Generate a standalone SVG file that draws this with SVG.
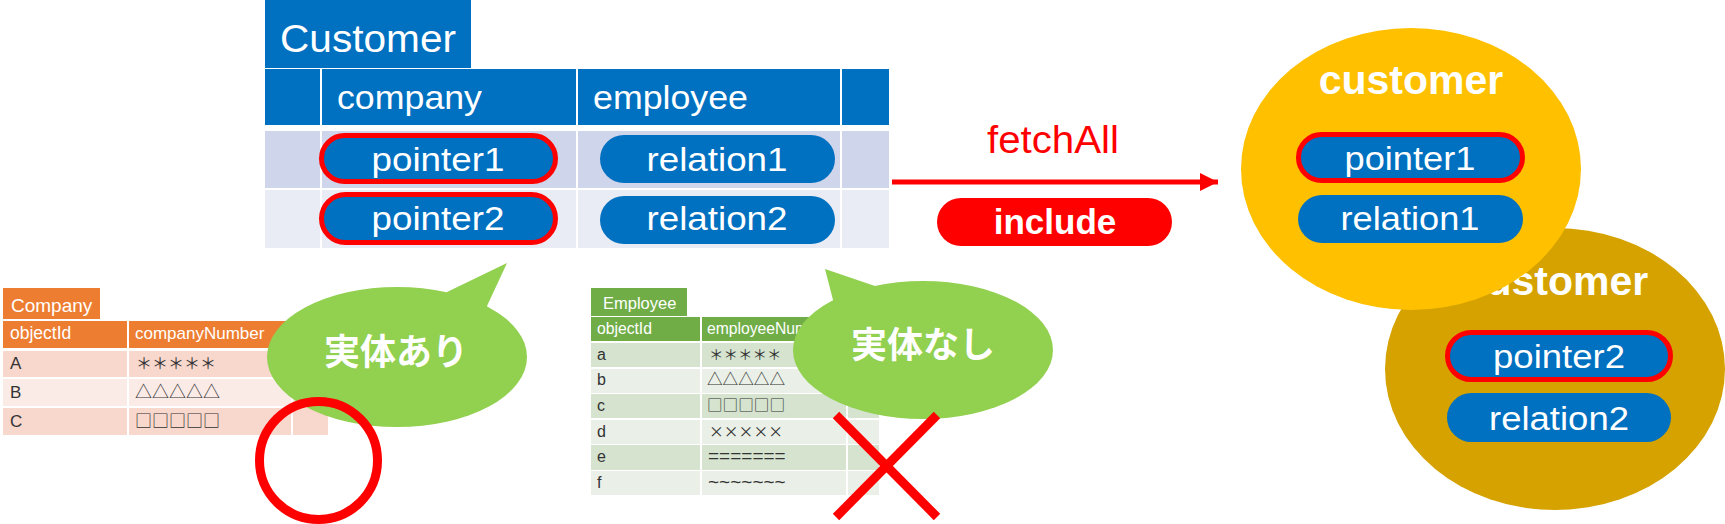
<svg xmlns="http://www.w3.org/2000/svg" width="1725" height="524" viewBox="0 0 1725 524">
<defs>
<style>
.f{font-family:"Liberation Sans","Noto Sans CJK JP",sans-serif}
.cjk{font-family:"Noto Sans CJK JP","Liberation Sans",sans-serif}
.w{fill:#ffffff}
.blue{fill:#0070C0}
.pill{fill:#0070C0}
.pillr{fill:#0070C0;stroke:#FF0000;stroke-width:5}
.r1{fill:#CFD5EA}
.r2{fill:#E9EBF5}
.or{fill:#ED7D31}
.o1{fill:#F8D7CD}
.o2{fill:#FBEBE7}
.gr{fill:#70AD47}
.g1{fill:#D5E3CF}
.g2{fill:#EAF0E7}
.tx{fill:#333333}
.bal{fill:#92D050}
.big{font-size:33px}
.mid{font-size:34px}
</style>
<marker id="ah" markerUnits="userSpaceOnUse" markerWidth="20" markerHeight="20" refX="18" refY="9" orient="auto">
<path d="M0,0 L18,9 L0,18 Z" fill="#FF0000"/>
</marker>
</defs>
<rect x="0" y="0" width="1725" height="524" fill="#ffffff"/>

<!-- Company table -->
<g id="company-table">
<rect class="or" x="3" y="288" width="97" height="31"/>
<text class="f w" x="11" y="312" font-size="19">Company</text>
<rect class="or" x="3" y="321" width="124" height="27"/>
<rect class="or" x="129" y="321" width="162" height="27"/>
<rect class="or" x="293" y="321" width="35" height="27"/>
<rect class="o1" x="3" y="351" width="124" height="26"/>
<rect class="o1" x="129" y="351" width="162" height="26"/>
<rect class="o1" x="293" y="351" width="35" height="26"/>
<rect class="o2" x="3" y="379" width="124" height="27"/>
<rect class="o2" x="129" y="379" width="162" height="27"/>
<rect class="o2" x="293" y="379" width="35" height="27"/>
<rect class="o1" x="3" y="408" width="124" height="27"/>
<rect class="o1" x="129" y="408" width="162" height="27"/>
<rect class="o1" x="293" y="408" width="35" height="27"/>
<text class="f w" x="10" y="339" font-size="17.5">objectId</text>
<text class="f w" x="135" y="339" font-size="17">companyNumber</text>
<text class="f tx" x="10" y="369" font-size="17">A</text>
<text class="f tx" x="10" y="398" font-size="17">B</text>
<text class="f tx" x="10" y="427" font-size="17">C</text>
<text class="cjk tx" x="136" y="369" font-size="16">＊＊＊＊＊</text>
<text class="cjk tx" x="135" y="398" font-size="17">△△△△△</text>
<text class="cjk tx" x="135" y="427" font-size="17">□□□□□</text>
</g>

<!-- Employee table -->
<g id="employee-table">
<rect class="gr" x="591" y="288" width="96" height="28"/>
<text class="f w" x="603" y="309" font-size="16.5">Employee</text>
<rect class="gr" x="591" y="317" width="109" height="24"/>
<rect class="gr" x="702" y="317" width="144" height="24"/>
<rect class="gr" x="848" y="317" width="31" height="24"/>
<rect class="g1" x="591" y="343" width="109" height="24"/><rect class="g1" x="702" y="343" width="144" height="24"/><rect class="g1" x="848" y="343" width="31" height="24"/>
<rect class="g2" x="591" y="369" width="109" height="24"/><rect class="g2" x="702" y="369" width="144" height="24"/><rect class="g2" x="848" y="369" width="31" height="24"/>
<rect class="g1" x="591" y="394" width="109" height="24"/><rect class="g1" x="702" y="394" width="144" height="24"/><rect class="g1" x="848" y="394" width="31" height="24"/>
<rect class="g2" x="591" y="420" width="109" height="24"/><rect class="g2" x="702" y="420" width="144" height="24"/><rect class="g2" x="848" y="420" width="31" height="24"/>
<rect class="g1" x="591" y="445" width="109" height="25"/><rect class="g1" x="702" y="445" width="144" height="25"/><rect class="g1" x="848" y="445" width="31" height="25"/>
<rect class="g2" x="591" y="471" width="109" height="24"/><rect class="g2" x="702" y="471" width="144" height="24"/><rect class="g2" x="848" y="471" width="31" height="24"/>
<text class="f w" x="597" y="334" font-size="15.7">objectId</text>
<text class="f w" x="707" y="334" font-size="15.7">employeeNumber</text>
<text class="f tx" x="597" y="360" font-size="16">a</text>
<text class="f tx" x="597" y="385" font-size="16">b</text>
<text class="f tx" x="597" y="411" font-size="16">c</text>
<text class="f tx" x="597" y="437" font-size="16">d</text>
<text class="f tx" x="597" y="462" font-size="16">e</text>
<text class="f tx" x="597" y="488" font-size="16">f</text>
<text class="cjk tx" x="709" y="360" font-size="14.5">＊＊＊＊＊</text>
<text class="cjk tx" x="707" y="385" font-size="15.6">△△△△△</text>
<text class="cjk tx" x="707" y="411" font-size="15.6">□□□□□</text>
<text class="cjk tx" x="709" y="437" font-size="14.8">×××××</text>
<text class="f tx" x="708" y="462" font-size="19">=======</text>
<text class="f tx" x="708" y="488" font-size="19">~~~~~~~</text>
</g>

<!-- Customer table -->
<g id="customer-table">
<rect class="blue" x="265" y="0" width="206" height="68"/>
<text class="f w" x="280" y="52" font-size="39" textLength="176" lengthAdjust="spacingAndGlyphs">Customer</text>
<rect class="blue" x="265" y="69" width="55" height="56"/>
<rect class="blue" x="322" y="69" width="254" height="56"/>
<rect class="blue" x="578" y="69" width="262" height="56"/>
<rect class="blue" x="842" y="69" width="47" height="56"/>
<text class="f w mid" x="337" y="109" textLength="145" lengthAdjust="spacingAndGlyphs">company</text>
<text class="f w mid" x="593" y="109" textLength="155" lengthAdjust="spacingAndGlyphs">employee</text>
<rect class="r1" x="265" y="131" width="55" height="57"/>
<rect class="r1" x="322" y="131" width="254" height="57"/>
<rect class="r1" x="578" y="131" width="262" height="57"/>
<rect class="r1" x="842" y="131" width="47" height="57"/>
<rect class="r2" x="265" y="190" width="55" height="58"/>
<rect class="r2" x="322" y="190" width="254" height="58"/>
<rect class="r2" x="578" y="190" width="262" height="58"/>
<rect class="r2" x="842" y="190" width="47" height="58"/>
<rect class="pillr" x="321.5" y="135.5" width="234" height="46" rx="23"/>
<text class="f w big" x="438" y="171" text-anchor="middle" textLength="133" lengthAdjust="spacingAndGlyphs">pointer1</text>
<rect class="pill" x="600" y="135" width="235" height="48" rx="24"/>
<text class="f w big" x="717" y="171" text-anchor="middle" textLength="141" lengthAdjust="spacingAndGlyphs">relation1</text>
<rect class="pillr" x="321.5" y="194.5" width="234" height="48" rx="24"/>
<text class="f w big" x="438" y="230" text-anchor="middle" textLength="133" lengthAdjust="spacingAndGlyphs">pointer2</text>
<rect class="pill" x="600" y="196" width="235" height="48" rx="24"/>
<text class="f w big" x="717" y="230" text-anchor="middle" textLength="141" lengthAdjust="spacingAndGlyphs">relation2</text>
</g>

<!-- Connectors -->
<g id="connectors">
<line x1="892" y1="182" x2="1218" y2="182" stroke="#FF0000" stroke-width="5" marker-end="url(#ah)"/>
<text class="f" x="987" y="153" font-size="38" fill="#FF0000" textLength="132" lengthAdjust="spacingAndGlyphs">fetchAll</text>
</g>

<g id="include-label">
<rect x="937" y="198" width="235" height="48" rx="24" fill="#FF0000"/>
<text class="f w" x="1055" y="234" font-size="35" font-weight="bold" text-anchor="middle">include</text>
</g>

<!-- Balloons -->
<g id="balloon-exists">
<ellipse class="bal" cx="397" cy="357" rx="130" ry="70"/>
<polygon class="bal" points="507,263 447,292 445,320 490,320 487,306"/>
<text class="cjk w" x="396" y="365" font-size="36" font-weight="bold" text-anchor="middle">実体あり</text>
</g>
<g id="balloon-none">
<ellipse class="bal" cx="923" cy="350" rx="130" ry="69"/>
<polygon class="bal" points="825,269 875,286 880,320 835,320 833,300"/>
<text class="cjk w" x="923" y="358" font-size="36" font-weight="bold" text-anchor="middle">実体なし</text>
</g>

<g id="mark-circle">
<circle cx="318.5" cy="460.5" r="59" fill="none" stroke="#FF0000" stroke-width="9"/>
</g>
<g id="mark-cross">
<line x1="836" y1="415" x2="937" y2="517" stroke="#FF0000" stroke-width="9"/>
<line x1="937" y1="415" x2="836" y2="517" stroke="#FF0000" stroke-width="9"/>
</g>

<!-- Result objects -->
<g id="customer-result-2">
<ellipse cx="1555" cy="369" rx="170" ry="141" fill="#D5A200"/>
<text class="f w" x="1556" y="295" font-size="41" font-weight="bold" text-anchor="middle">customer</text>
<rect class="pillr" x="1447.5" y="332.5" width="223" height="47" rx="23.5"/>
<text class="f w big" x="1559" y="368" text-anchor="middle" textLength="132" lengthAdjust="spacingAndGlyphs">pointer2</text>
<rect class="pill" x="1447" y="393" width="224" height="49" rx="24.5"/>
<text class="f w big" x="1559" y="430" text-anchor="middle" textLength="140" lengthAdjust="spacingAndGlyphs">relation2</text>
</g>
<g id="customer-result-1">
<ellipse cx="1411" cy="169" rx="170" ry="141" fill="#FFC000"/>
<text class="f w" x="1411" y="94" font-size="41" font-weight="bold" text-anchor="middle">customer</text>
<rect class="pillr" x="1298.5" y="134.5" width="224" height="46" rx="23"/>
<text class="f w big" x="1410" y="170" text-anchor="middle" textLength="131" lengthAdjust="spacingAndGlyphs">pointer1</text>
<rect class="pill" x="1298" y="195" width="225" height="48" rx="24"/>
<text class="f w big" x="1410" y="230" text-anchor="middle" textLength="139" lengthAdjust="spacingAndGlyphs">relation1</text>
</g>
</svg>
